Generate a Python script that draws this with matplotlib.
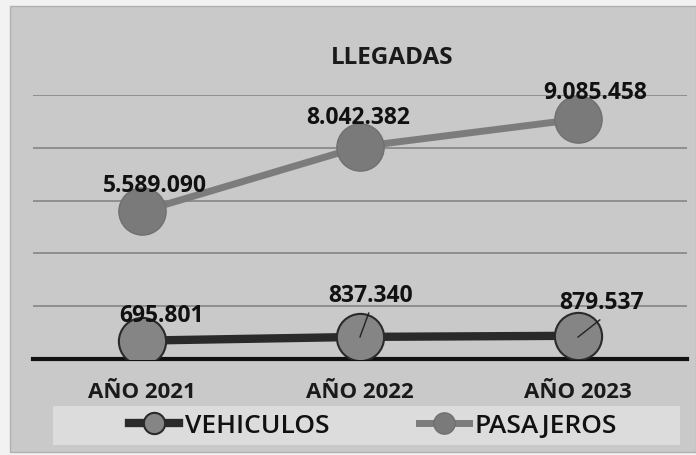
import matplotlib.pyplot as plt
from matplotlib.patches import Rectangle

# Data
years = ['AÑO 2021', 'AÑO 2022', 'AÑO 2023']
vehiculos = [695801, 837340, 879537]
pasajeros = [5589090, 8042382, 9085458]
veh_labels = ['695.801', '837.340', '879.537']
pas_labels = ['5.589.090', '8.042.382', '9.085.458']

plt.rcParams['font.family'] = ['Open Sans', 'DejaVu Sans']

W, H = 696, 456
fig = plt.figure(figsize=(W / 100, H / 100), dpi=100)
fig.patch.set_facecolor('#f2f2f2')

# chart frame + legend box (behind the axes)
fig.patches.append(Rectangle((10 / W, 3 / H), 1 - 10 / W, 446 / H,
                             transform=fig.transFigure, facecolor='#c9c9c9',
                             edgecolor='#b0b0b0', lw=1, zorder=-3))
fig.patches.append(Rectangle((53 / W, 1 - 446 / H), (680 - 53) / W, 39 / H,
                             transform=fig.transFigure, facecolor='#dcdcdc',
                             edgecolor='none', zorder=-2))

ax = fig.add_axes([33 / W, 96 / H, (687 - 33) / W, (360 - 96) / H])
ax.set_facecolor('none')
x = range(len(years))

ax.set_ylim(0, 10000000)
ax.set_xlim(-0.5, 2.5)
ax.set_yticks([2000000, 4000000, 6000000, 8000000, 10000000])
ax.yaxis.grid(True, color='#8a8a8a', lw=1.3)
ax.tick_params(left=False, labelleft=False, bottom=False)
for s in ['top', 'right', 'left']:
    ax.spines[s].set_visible(False)
ax.spines['bottom'].set_color('#111111')
ax.spines['bottom'].set_linewidth(3)
ax.spines['bottom'].set_zorder(2)

ax.plot(x, pasajeros, color='#7c7c7c', lw=5, marker='o', ms=34,
        mfc='#7a7a7a', mec='#707070', mew=1, zorder=3, label='PASAJEROS')
ax.plot(x, vehiculos, color='#2a2a2a', lw=6, marker='o', ms=34,
        mfc='#858585', mec='#2a2a2a', mew=1.5, zorder=4, label='VEHICULOS')

# data labels
pas_off = [(0.06, 560000), (-0.01, 670000), (0.08, 580000)]
for i, (v, t) in enumerate(zip(pasajeros, pas_labels)):
    ax.text(i + pas_off[i][0], v + pas_off[i][1], t, ha='center', va='bottom',
            fontsize=16.5, fontweight='bold', color='#111111', zorder=6)
veh_off = [(0.09, 500000), (0.05, 1150000), (0.11, 820000)]
for i, (v, t) in enumerate(zip(vehiculos, veh_labels)):
    ax.text(i + veh_off[i][0], v + veh_off[i][1], t, ha='center', va='bottom',
            fontsize=16.5, fontweight='bold', color='#111111', zorder=6)
# leader lines
ax.plot([1.0, 1.04], [vehiculos[1], 1.74e6], color='#222222', lw=1, zorder=5)
ax.plot([2.0, 2.1], [vehiculos[2] - 50000, 1.48e6], color='#222222', lw=1, zorder=5)

ax.set_xticks(list(x))
ax.set_xticklabels(years, fontsize=16, fontweight='bold', color='#1a1a1a')
ax.tick_params(axis='x', pad=12)

fig.text(392 / W, 1 - 58 / H, 'LLEGADAS', ha='center', va='center',
         fontsize=17.5, fontweight='bold', color='#1a1a1a')

leg = fig.legend(handles=[ax.lines[1], ax.lines[0]], labels=['VEHICULOS', 'PASAJEROS'],
                 loc='center', bbox_to_anchor=(373 / W, 1 - 427 / H), ncol=2,
                 frameon=False, fontsize=19, markerscale=0.45, handlelength=1.9,
                 handletextpad=0.2, columnspacing=3.4)
for t in leg.get_texts():
    t.set_color('#111111')
    t.set_fontweight('semibold')

fig.savefig('out.png', dpi=100, facecolor=fig.get_facecolor())
